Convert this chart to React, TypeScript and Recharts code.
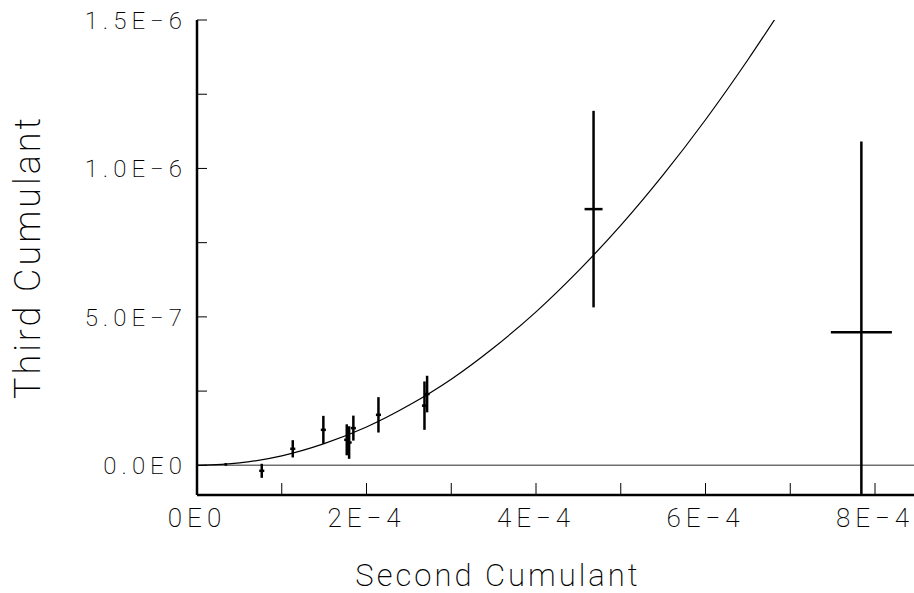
import { ComposedChart, XAxis, YAxis, Scatter, Line, ErrorBar, ReferenceLine } from "recharts";

// measured points (second cumulant, third cumulant) with errors
const secondCumulant = [0.34e-4, 0.764e-4, 1.13e-4, 1.491e-4, 1.767e-4, 1.795e-4, 1.845e-4, 2.141e-4, 2.684e-4, 2.715e-4, 4.679e-4, 7.839e-4];
const secondErr = [1.5e-6, 3e-6, 3e-6, 3e-6, 3e-6, 3e-6, 3e-6, 3e-6, 3e-6, 3e-6, 1.06e-5, 3.6e-5];
const thirdCumulant = [0.3e-8, -1.85e-8, 5.56e-8, 1.195e-7, 8.59e-8, 7.68e-8, 1.253e-7, 1.7e-7, 2.01e-7, 2.4e-7, 8.63e-7, 4.485e-7];
// last bar runs off the bottom of the frame, so only the visible part is given
const thirdErr: (number | [number, number])[] = [0.3e-8, 2.36e-8, 2.91e-8, 4.71e-8, 5.22e-8, 5.49e-8, 4.21e-8, 5.96e-8, 8.15e-8, 6.16e-8, 3.31e-7, [5.485e-7, 6.42e-7]];

// fitted curve
const curveX = [0, 0.5e-4, 1.0e-4, 1.5e-4, 2.0e-4, 2.5e-4, 3.0e-4, 3.5e-4, 4.0e-4, 4.5e-4, 5.0e-4, 5.5e-4, 6.0e-4, 6.5e-4, 6.84e-4];
const curveY = [0, 0.8e-8, 3.2e-8, 7.3e-8, 1.29e-7, 2.02e-7, 2.9e-7, 3.96e-7, 5.17e-7, 6.55e-7, 8.08e-7, 9.78e-7, 1.164e-6, 1.366e-6, 1.512e-6];

const xTicks = [0, 1e-4, 2e-4, 3e-4, 4e-4, 5e-4, 6e-4, 7e-4, 8e-4];
const xTickLabels: Record<string, string> = { "0": "0E0", "0.0002": "2E\u22124", "0.0004": "4E\u22124", "0.0006": "6E\u22124", "0.0008": "8E\u22124" };
const yTicks = [0, 2.5e-7, 5e-7, 7.5e-7, 1e-6, 1.25e-6, 1.5e-6];
const yTickLabels: Record<string, string> = { "0": "0.0E0", "5e-7": "5.0E\u22127", "0.000001": "1.0E\u22126", "0.0000015": "1.5E\u22126" };

const points = secondCumulant.map((x, i) => ({ x, y: thirdCumulant[i], ex: secondErr[i], ey: thirdErr[i] }));
const curve = curveX.map((x, i) => ({ x, y: curveY[i] }));

const FONT = "Roboto, 'DejaVu Sans', sans-serif";

function XTick(props: any) {
  const { x, y, payload } = props;
  const label = xTickLabels[String(payload.value)];
  return (
    <g>
      <line x1={x} y1={y} x2={x} y2={y - 12} stroke="#000" strokeWidth={1} />
      {label && (
        <text x={x} y={y + 32} textAnchor="middle" fontFamily={FONT} fontWeight={200} fontSize={26} fill="#000" style={{ letterSpacing: 5 }}>
          {label}
        </text>
      )}
    </g>
  );
}

function YTick(props: any) {
  const { x, y, payload } = props;
  const label = yTickLabels[String(payload.value)];
  return (
    <g>
      <line x1={x} y1={y} x2={x + 10} y2={y} stroke="#000" strokeWidth={1} />
      {label && (
        <text x={x - 10} y={y + 9} textAnchor="end" fontFamily={FONT} fontWeight={200} fontSize={24} fill="#000" style={{ letterSpacing: 5 }}>
          {label}
        </text>
      )}
    </g>
  );
}

export default function App() {
  return (
    <div style={{ position: "absolute", left: 0, top: 0, width: 914, height: 593, background: "#fff" }}>
      <ComposedChart width={914} height={593} margin={{ top: 20, right: 0, left: 0, bottom: 0 }}>
        <XAxis
          type="number"
          dataKey="x"
          domain={[0, 8.46e-4]}
          ticks={xTicks}
          allowDataOverflow
          height={98}
          tickSize={0}
          tickMargin={0}
          tick={<XTick />}
          axisLine={{ stroke: "#000", strokeWidth: 2.5 }}
          tickLine={false}
          interval={0}
        />
        <YAxis
          type="number"
          dataKey="y"
          domain={[-1e-7, 1.5e-6]}
          ticks={yTicks}
          allowDataOverflow
          width={197}
          tickSize={0}
          tickMargin={0}
          tick={<YTick />}
          axisLine={{ stroke: "#000", strokeWidth: 2.5 }}
          tickLine={false}
          interval={0}
        />
        <ReferenceLine y={0} stroke="#707070" strokeWidth={1.5} />
        <Line data={curve} dataKey="y" type="monotone" stroke="#000" strokeWidth={1.2} dot={false} isAnimationActive={false} />
        <Scatter data={points} dataKey="y" shape={() => <g />} isAnimationActive={false}>
          <ErrorBar dataKey="ey" direction="y" width={0} stroke="#000" strokeWidth={2.5} />
          <ErrorBar dataKey="ex" direction="x" width={0} stroke="#000" strokeWidth={2.5} />
        </Scatter>
        <text x={498} y={586} textAnchor="middle" fontFamily={FONT} fontWeight={200} fontSize={31} fill="#000" style={{ letterSpacing: 3 }}>
          Second Cumulant
        </text>
        <text
          x={40}
          y={257}
          textAnchor="middle"
          transform="rotate(-90 40 257)"
          fontFamily={FONT}
          fontWeight={200}
          fontSize={36}
          fill="#000"
          style={{ letterSpacing: 3 }}
        >
          Third Cumulant
        </text>
      </ComposedChart>
    </div>
  );
}
